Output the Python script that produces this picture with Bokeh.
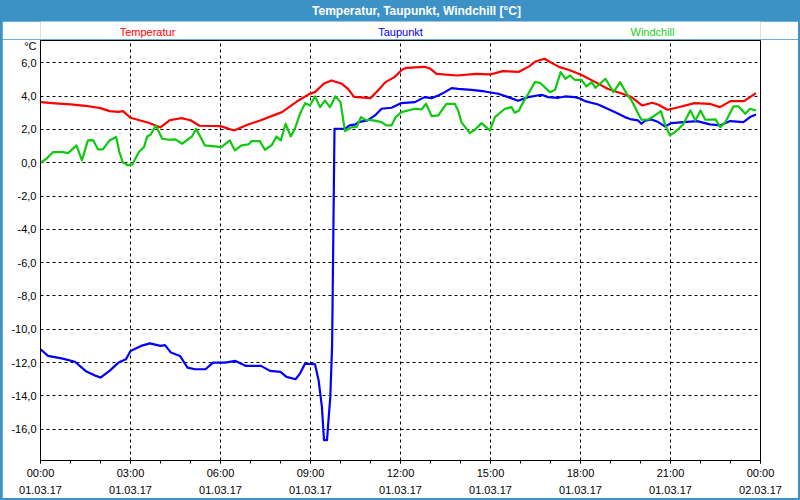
from bokeh.plotting import figure
from bokeh.layouts import column
from bokeh.models import FixedTicker, Label, Range1d
from bokeh.embed import file_html
from bokeh.resources import INLINE

# ---- data (hours since 01.03.17 00:00, values in °C) ----
temp_t = [0.0, 0.5, 1.0, 1.5, 2.0, 2.3, 2.6, 2.75, 3.0, 3.3, 3.6, 4.0, 4.3, 4.7, 5.0, 5.3, 6.0,
          6.45, 6.9, 7.3, 7.7, 8.05, 8.6, 8.95, 9.15, 9.45, 9.7, 10.05, 10.25, 10.45, 11.0, 11.25,
          11.5, 11.8, 12.05, 12.2, 12.8, 13.0, 13.2, 13.9, 14.5, 15.0, 15.4, 15.95, 16.3, 16.5,
          16.8, 17.05, 17.3, 17.6, 18.0, 18.5, 18.9, 19.4, 19.7, 20.05, 20.4, 20.6, 20.9, 21.2,
          21.8, 22.3, 22.65, 23.0, 23.45, 23.85]
temp_v = [3.64, 3.57, 3.5, 3.42, 3.28, 3.1, 3.05, 3.1, 2.7, 2.55, 2.4, 2.12, 2.55, 2.68, 2.55, 2.22, 2.2,
          1.94, 2.28, 2.52, 2.8, 3.04, 3.74, 4.12, 4.24, 4.76, 4.94, 4.74, 4.44, 3.96, 3.88, 4.34,
          4.84, 5.14, 5.58, 5.7, 5.76, 5.64, 5.34, 5.24, 5.34, 5.3, 5.5, 5.46, 5.8, 6.08,
          6.24, 5.98, 5.74, 5.58, 5.3, 4.84, 4.44, 4.14, 3.94, 3.44, 3.6, 3.48, 3.18, 3.3,
          3.58, 3.54, 3.34, 3.7, 3.7, 4.18]

dew_t = [0.0, 0.25, 0.7, 1.15, 1.5, 1.85, 2.0, 2.3, 2.6, 2.85, 3.0, 3.35, 3.65, 4.0, 4.15, 4.35,
         4.65, 4.9, 5.15, 5.5, 5.75, 6.15, 6.5, 6.85, 7.35, 7.65, 8.0, 8.2, 8.5, 8.65, 8.82, 9.15,
         9.27, 9.38, 9.45, 9.55, 9.6, 9.66, 9.72, 9.8, 10.15, 10.3, 10.5, 10.6, 10.9, 11.15, 11.37,
         11.7, 12.03, 12.48, 12.8, 13.03, 13.26, 13.48, 13.7, 13.92, 14.37, 14.81, 15.26, 15.59,
         15.92, 16.26, 16.7, 16.92, 17.26, 17.48, 17.81, 18.0, 18.15, 18.59, 19.03, 19.26, 19.48,
         19.7, 19.92, 20.03, 20.15, 20.37, 20.59, 20.81, 21.04, 21.43, 21.88, 22.32, 22.65, 22.99,
         23.43, 23.65, 23.85]
dew_v = [-11.2, -11.6, -11.75, -11.95, -12.5, -12.8, -12.9, -12.5, -12.0, -11.8, -11.3, -11.0, -10.85,
         -11.0, -10.95, -11.4, -11.6, -12.3, -12.4, -12.4, -12.0, -12.0, -11.9, -12.2, -12.2, -12.5,
         -12.56, -12.86, -13.0, -12.66, -12.06, -12.1, -13.06, -14.66, -16.66, -16.66, -15.46, -14.06,
         -11.0, 2.04, 2.04, 2.24, 2.3, 2.44, 2.54, 2.84, 3.24, 3.3, 3.58, 3.64, 3.94, 3.88, 4.04,
         4.24, 4.48, 4.44, 4.38, 4.28, 4.14, 3.94, 3.72, 3.94, 4.08, 3.94, 3.9, 3.98, 3.94, 3.84,
         3.7, 3.5, 3.14, 2.94, 2.74, 2.6, 2.54, 2.34, 2.52, 2.6, 2.44, 2.18, 2.38, 2.44, 2.5, 2.3,
         2.24, 2.5, 2.44, 2.74, 2.9]

wind_t = [0.0, 0.2, 0.42, 0.75, 0.92, 1.2, 1.38, 1.58, 1.75, 1.92, 2.08, 2.3, 2.52, 2.63, 2.74, 2.91,
          3.06, 3.28, 3.45, 3.56, 3.67, 3.84, 4.06, 4.28, 4.5, 4.72, 5.05, 5.19, 5.48, 5.81, 6.03,
          6.31, 6.48, 6.7, 6.93, 7.04, 7.31, 7.48, 7.7, 7.87, 8.01, 8.17, 8.34, 8.48, 8.65, 8.82,
          8.98, 9.15, 9.32, 9.48, 9.65, 9.83, 10.0, 10.15, 10.37, 10.54, 10.68, 10.82, 11.1, 11.37,
          11.53, 11.7, 11.84, 12.03, 12.48, 12.7, 12.85, 13.04, 13.26, 13.53, 13.81, 13.92, 14.03,
          14.31, 14.48, 14.7, 14.98, 15.15, 15.48, 15.7, 15.81, 15.95, 16.09, 16.26, 16.48, 16.65,
          16.98, 17.15, 17.34, 17.5, 17.65, 17.81, 18.03, 18.2, 18.37, 18.5, 18.83, 19.1, 19.32,
          19.54, 19.7, 20.03, 20.26, 20.48, 20.68, 20.81, 20.98, 21.15, 21.42, 21.66, 21.83, 22.0,
          22.16, 22.5, 22.66, 22.83, 23.1, 23.27, 23.49, 23.65, 23.85]
wind_v = [0.0, 0.24, 0.64, 0.64, 0.58, 1.04, 0.14, 1.34, 1.36, 0.8, 0.8, 1.34, 1.54, 0.64, 0.04, -0.16,
          -0.1, 0.64, 0.94, 1.58, 1.68, 2.24, 1.44, 1.38, 1.4, 1.14, 1.58, 2.04, 1.04, 0.98, 0.94,
          1.34, 0.74, 1.04, 1.1, 1.3, 1.3, 0.78, 1.04, 1.58, 1.34, 2.34, 1.58, 2.04, 2.94, 3.58,
          3.44, 3.98, 3.34, 3.74, 3.34, 3.98, 3.64, 1.9, 2.14, 2.14, 2.74, 2.58, 2.54, 2.44,
          2.24, 2.24, 2.74, 3.04, 3.24, 3.2, 3.54, 2.8, 2.84, 3.54, 3.54, 3.14, 2.44,
          1.78, 1.98, 2.38, 1.94, 2.74, 3.24, 3.34, 3.0, 3.14, 3.64, 4.14, 4.84, 4.8,
          4.24, 4.38, 5.44, 5.04, 5.24, 4.98, 4.98, 4.58, 4.84, 4.5, 5.04, 4.24, 4.84,
          4.14, 3.74, 2.58, 2.6, 2.84, 3.1, 2.34, 1.64, 1.84, 2.3, 3.14, 2.54, 3.14,
          2.58, 2.6, 2.14, 2.44, 3.38, 3.38, 2.94, 3.24, 3.14]

series_names = ["Temperatur", "Taupunkt", "Windchill"]
title_text = "Temperatur, Taupunkt, Windchill [°C]"
unit_text = "°C"

x_ticks = [0, 3, 6, 9, 12, 15, 18, 21, 24]
x_labels = ["00:00\n01.03.17", "03:00\n01.03.17", "06:00\n01.03.17", "09:00\n01.03.17",
            "12:00\n01.03.17", "15:00\n01.03.17", "18:00\n01.03.17", "21:00\n01.03.17",
            "00:00\n02.03.17"]
x_minor = list(range(0, 25))
y_ticks = [6, 4, 2, 0, -2, -4, -6, -8, -10, -12, -14, -16]
y_labels = ["6,0", "4,0", "2,0", "0,0", "-2,0", "-4,0", "-6,0", "-8,0", "-10,0", "-12,0",
            "-14,0", "-16,0"]
unit_pos = 6.98   # where the unit sits on the value axis (just under the frame top)

# ---- styling ----
FONT = "Liberation Sans"
BAR = "#3d92c5"
RED = "#ff0000"
BLUE = "#0000ff"
GREEN = "#10c810"
W = 796                      # inner width (column adds a 2px border on each side)
H_BAR, H_LEG, H_MAIN = 21, 18, 459


def header(height, fill, alpha, y0, y1):
    f = figure(width=W, height=height, output_backend="svg", toolbar_location=None,
               x_range=Range1d(40, 760), y_range=Range1d(y1, y0),
               min_border=0, min_border_top=0, min_border_bottom=0)
    f.axis.visible = False
    f.grid.visible = False
    f.outline_line_color = None
    f.background_fill_color = fill
    f.border_fill_color = fill
    f.background_fill_alpha = alpha
    f.border_fill_alpha = alpha
    return f


# title bar (transparent figure over the blue page background)
bar = header(H_BAR, BAR, 0, 0, H_BAR)
bar.add_layout(Label(x=416, y=10.5, text=title_text, text_align="center",
                     text_baseline="middle", text_color="white", text_font=FONT,
                     text_font_style="bold", text_font_size="12px"))

# series names row
leg = header(H_LEG, "white", 1, H_BAR, H_BAR + H_LEG)
for name, cx, col in zip(series_names, [147, 400, 652], [RED, BLUE, "#22cc22"]):
    leg.add_layout(Label(x=cx, y=31.5, text=name, text_align="center", text_baseline="middle",
                         text_color=col, text_font=FONT, text_font_size="11px"))

# ---- main chart ----
p = figure(width=W, height=H_MAIN, output_backend="svg", toolbar_location=None,
           x_range=Range1d(0, 24), y_range=Range1d(-17.88, 7.34),
           min_border_left=38, min_border_right=38, min_border_top=1, min_border_bottom=38)
p.background_fill_color = "white"
p.border_fill_color = "white"
p.outline_line_color = "black"
p.outline_line_width = 1

for ax in (p.xaxis[0], p.yaxis[0]):
    ax.axis_line_color = "black"
    ax.major_label_text_font = FONT
    ax.major_label_text_font_size = "11px"
    ax.major_label_text_color = "black"
    ax.major_tick_line_color = "black"
    ax.minor_tick_line_color = "black"
    ax.major_tick_in = 0
    ax.minor_tick_in = 0

p.xaxis.ticker = FixedTicker(ticks=x_ticks, minor_ticks=x_minor)
p.xaxis.major_label_overrides = dict(zip(x_ticks, x_labels))
p.xaxis.major_tick_out = 3
p.xaxis.minor_tick_out = 3
p.xaxis.major_label_standoff = 3
p.xaxis.major_label_text_line_height = 1.45

p.yaxis.ticker = FixedTicker(ticks=y_ticks + [unit_pos])
overrides = dict(zip(y_ticks, y_labels))
overrides[unit_pos] = unit_text
p.yaxis.major_label_overrides = overrides
p.yaxis.major_tick_out = 0
p.yaxis.minor_tick_out = 0
p.yaxis.major_label_standoff = 4

p.xgrid[0].ticker = FixedTicker(ticks=x_ticks)
p.ygrid[0].ticker = FixedTicker(ticks=y_ticks)
for g in (p.xgrid[0], p.ygrid[0]):
    g.grid_line_color = "black"
    g.grid_line_dash = "3 3"
    g.grid_line_width = 1

p.line(temp_t, temp_v, color=RED, line_width=2.2, line_join="round")
p.line(dew_t, dew_v, color=BLUE, line_width=2.2, line_join="round")
p.line(wind_t, wind_v, color=GREEN, line_width=2.2, line_join="round")

page = column(bar, leg, p, spacing=0)
page.styles = {"background-color": BAR,
               "border-left": f"2px solid {BAR}", "border-right": f"2px solid {BAR}",
               "border-bottom": f"2px solid {BAR}"}

open("out.html", "w").write(file_html(page, INLINE))
